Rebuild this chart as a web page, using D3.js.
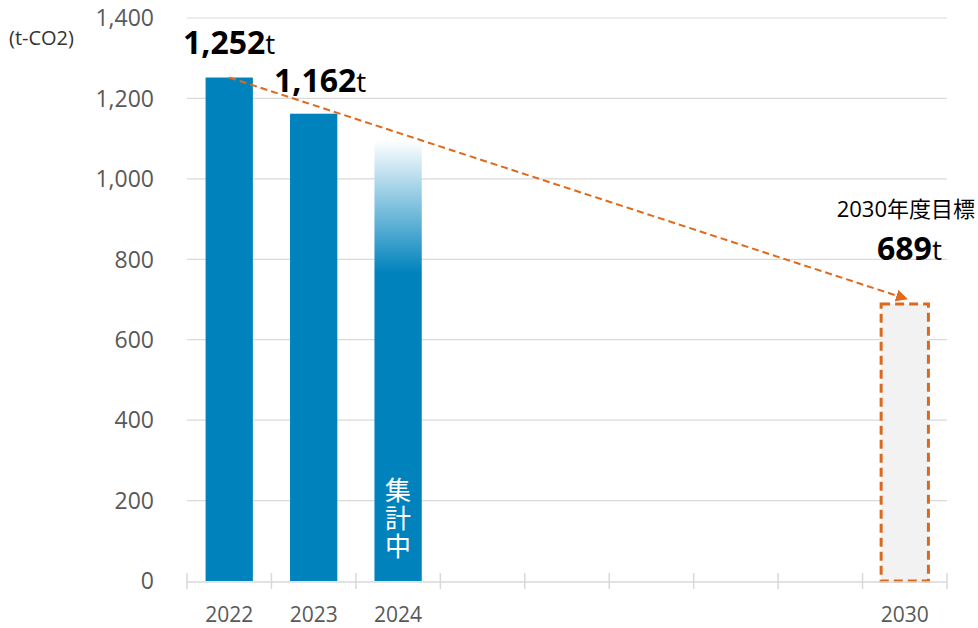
<!DOCTYPE html>
<meta charset="utf-8">
<script src="https://d3js.org/d3.v7.min.js"></script>
<style>
  body { margin: 0; background: #fff; }
  text { font-family: "Open Sans", "Noto Sans", "Noto Sans CJK JP", sans-serif; }
</style>
<div id="chart"></div>
<script>
// data
var years = ["2022", "2023", "2024", "2025", "2026", "2027", "2028", "2029", "2030"];
var shownYears = ["2022", "2023", "2024", "2030"];
var actual = [{year: "2022", value: 1252}, {year: "2023", value: 1162}];
var inProgress = {year: "2024", value: 1095, label: "集計中"};
var target = {year: "2030", value: 689};
var yTicks = [0, 200, 400, 600, 800, 1000, 1200, 1400];

var width = 978, height = 628;
var margin = {top: 18, right: 31, bottom: 47, left: 187};

var svg = d3.select("#chart").append("svg")
  .attr("width", width)
  .attr("height", height);

var x = d3.scaleBand()
  .domain(years)
  .range([margin.left, width - margin.right])
  .paddingInner(0.44)
  .paddingOuter(0.22);

var y = d3.scaleLinear()
  .domain([0, 1400])
  .range([height - margin.bottom, margin.top]);

// gradient for the 2024 bar
var defs = svg.append("defs");
var grad = defs.append("linearGradient")
  .attr("id", "fade")
  .attr("x1", 0).attr("y1", 0).attr("x2", 0).attr("y2", 1);
grad.append("stop").attr("offset", "0%").attr("stop-color", "#ffffff");
grad.append("stop").attr("offset", "30%").attr("stop-color", "#0083bd");
grad.append("stop").attr("offset", "100%").attr("stop-color", "#0083bd");

defs.append("marker")
  .attr("id", "arrow")
  .attr("viewBox", "0 0 10 10")
  .attr("refX", 9).attr("refY", 5)
  .attr("markerWidth", 6).attr("markerHeight", 6)
  .attr("orient", "auto")
  .append("path")
  .attr("d", "M0,0 L10,5 L0,10 z")
  .attr("fill", "#e0691c");

// gridlines
svg.append("g")
  .selectAll("line")
  .data(yTicks.filter(function(d) { return d > 0; }))
  .enter().append("line")
    .attr("x1", margin.left)
    .attr("x2", width - margin.right)
    .attr("y1", function(d) { return y(d); })
    .attr("y2", function(d) { return y(d); })
    .attr("stroke", "#d9d9d9")
    .attr("stroke-width", 1.2);

// y tick labels
svg.append("g")
  .selectAll("text")
  .data(yTicks)
  .enter().append("text")
    .attr("x", 154)
    .attr("y", function(d) { return y(d); })
    .attr("dy", "0.36em")
    .attr("text-anchor", "end")
    .attr("fill", "#595959")
    .style("font-size", "23px")
    .text(function(d) { return d3.format(",")(d); });

svg.append("text")
  .attr("x", 9).attr("y", 45)
  .attr("fill", "#333")
  .style("font-size", "20px")
  .text("(t-CO2)");

// bars
svg.append("g")
  .selectAll("rect")
  .data(actual)
  .enter().append("rect")
    .attr("x", function(d) { return x(d.year); })
    .attr("y", function(d) { return y(d.value); })
    .attr("width", x.bandwidth())
    .attr("height", function(d) { return y(0) - y(d.value); })
    .attr("fill", "#0083bd");

svg.append("rect")
  .attr("x", x(inProgress.year))
  .attr("y", y(inProgress.value))
  .attr("width", x.bandwidth())
  .attr("height", y(0) - y(inProgress.value))
  .attr("fill", "url(#fade)");

// vertical label inside the 2024 bar
svg.append("text")
  .attr("x", x(inProgress.year) + x.bandwidth() / 2)
  .attr("y", 477)
  .attr("fill", "#fff")
  .style("writing-mode", "vertical-rl")
  .style("text-orientation", "upright")
  .style("font-size", "26px")
  .style("letter-spacing", "2px")
  .style("font-family", "'Noto Sans CJK JP', sans-serif")
  .text(inProgress.label);

// target box
svg.append("rect")
  .attr("x", x(target.year))
  .attr("y", y(target.value))
  .attr("width", x.bandwidth())
  .attr("height", y(0) - y(target.value))
  .attr("fill", "#f2f2f2")
  .attr("stroke", "#d9691e")
  .attr("stroke-width", 3)
  .attr("stroke-dasharray", "9,5");

// x axis
var xAxis = svg.append("g");
xAxis.append("line")
  .attr("x1", margin.left).attr("x2", width - margin.right)
  .attr("y1", y(0) + 1).attr("y2", y(0) + 1)
  .attr("stroke", "#d9d9d9").attr("stroke-width", 1.5);

var bounds = d3.range(years.length + 1).map(function(i) { return margin.left + i * (width - margin.right - margin.left) / years.length; });
xAxis.selectAll(".tick")
  .data(bounds)
  .enter().append("line")
    .attr("x1", function(d) { return d; })
    .attr("x2", function(d) { return d; })
    .attr("y1", y(0) - 8)
    .attr("y2", y(0) + 8)
    .attr("stroke", "#d9d9d9").attr("stroke-width", 1.5);

xAxis.selectAll(".lbl")
  .data(shownYears)
  .enter().append("text")
    .attr("x", function(d) { return x(d) + x.bandwidth() / 2; })
    .attr("y", 622)
    .attr("text-anchor", "middle")
    .attr("fill", "#595959")
    .style("font-size", "21px")
    .text(function(d) { return d; });

// trend arrow
var first = actual[0];
svg.append("line")
  .attr("x1", x(first.year) + x.bandwidth() / 2)
  .attr("y1", y(first.value))
  .attr("x2", x(target.year) + x.bandwidth() / 2 + 2)
  .attr("y2", y(target.value) - 5)
  .attr("stroke", "#e0691c")
  .attr("stroke-width", 2)
  .attr("stroke-dasharray", "7,4")
  .attr("marker-end", "url(#arrow)");

// value labels
function valueLabel(xPos, yPos, value, size) {
  var t = svg.append("text")
    .attr("x", xPos).attr("y", yPos)
    .attr("fill", "#000");
  t.append("tspan")
    .style("font-weight", "bold")
    .style("font-size", size + "px")
    .text(d3.format(",")(value));
  t.append("tspan")
    .style("font-size", (size - 4) + "px")
    .text("t");
}
valueLabel(183, 54, actual[0].value, 32);
valueLabel(274, 92, actual[1].value, 32);
valueLabel(877, 260, target.value, 32);

svg.append("text")
  .attr("x", 975).attr("y", 217)
  .attr("text-anchor", "end")
  .attr("fill", "#000")
  .style("font-size", "22px")
  .style("font-family", "'Open Sans', 'Noto Sans CJK JP', sans-serif")
  .text("2030年度目標");
</script>
